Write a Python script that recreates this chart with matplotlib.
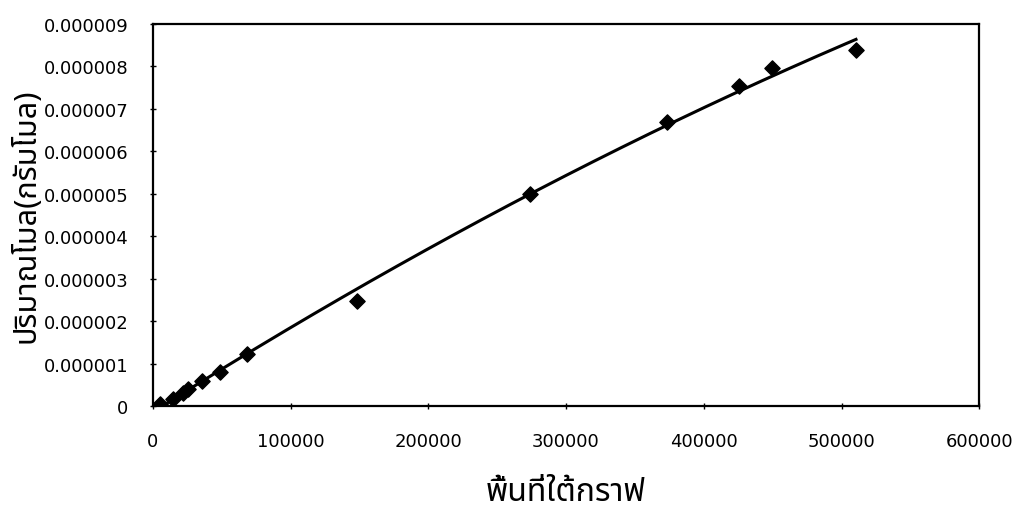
import numpy as np
import matplotlib
matplotlib.use("Agg")
import matplotlib.pyplot as plt
from matplotlib import font_manager
from matplotlib.ft2font import FT2Font

# ---- data ----
area = [5000, 14500, 21800, 25400, 35400, 48700, 68000, 148000, 273800, 373000, 425800, 449300, 510500]
moles = [0.05e-6, 0.17e-6, 0.31e-6, 0.40e-6, 0.60e-6, 0.80e-6, 1.23e-6, 2.48e-6, 5.00e-6, 6.69e-6, 7.54e-6, 7.96e-6, 8.38e-6]
xticks = [0, 100000, 200000, 300000, 400000, 500000, 600000]
yticks = [0, 0.000001, 0.000002, 0.000003, 0.000004, 0.000005, 0.000006, 0.000007, 0.000008, 0.000009]
ytick_labels = ["0", "0.000001", "0.000002", "0.000003", "0.000004", "0.000005",
                "0.000006", "0.000007", "0.000008", "0.000009"]
xlabel = "พื้นที่ใต้กราฟ"
ylabel = "ปริมาณโมล(กรัมโมล)"


def find_thai_font():
    prefs = ["Noto Sans Thai", "Noto Sans Thai Looped", "Loma", "Garuda", "Norasi",
             "Tlwg Typo", "Kinnari", "Sawasdee", "Noto Serif Thai", "DejaVu Sans",
             "Noto Sans", "FreeSerif", "FreeSans"]
    found = {}
    for f in font_manager.fontManager.ttflist:
        try:
            ft = FT2Font(f.fname)
            if ft.get_char_index(ord("ก")) and ft.get_char_index(ord("ม")):
                found.setdefault(f.name, f.fname)
        except Exception:
            pass
    for p in prefs:
        if p in found:
            return p
    if found:
        return sorted(found)[0]
    return "DejaVu Sans"


thai_font = find_thai_font()

fig = plt.figure(figsize=(10.19, 5.10), dpi=100)
ax = fig.add_axes([0.150, 0.202, 0.811, 0.749])

ax.scatter(area, moles, marker="D", s=60, color="black", zorder=3)

coef = np.polyfit(area, moles, 2)
xs = np.linspace(min(area), max(area), 200)
ax.plot(xs, np.polyval(coef, xs), color="black", lw=2.2, zorder=2)

ax.set_xlim(0, 600000)
ax.set_ylim(0, 0.000009)
ax.set_xticks(xticks)
ax.set_xticklabels([str(v) for v in xticks], fontsize=13, family="DejaVu Sans")
ax.set_yticks(yticks)
ax.set_yticklabels(ytick_labels, fontsize=13, family="DejaVu Sans")
ax.tick_params(axis="y", direction="inout", length=5, width=1, pad=15)
ax.tick_params(axis="x", direction="inout", length=5, width=1, pad=16)
for s in ax.spines.values():
    s.set_linewidth(1.6)

ax.set_xlabel(xlabel, fontsize=23, family=[thai_font, "DejaVu Sans"], labelpad=18)
ax.set_ylabel(ylabel, fontsize=22, family=[thai_font, "DejaVu Sans"], labelpad=2)

fig.savefig("out.png", dpi=100)
